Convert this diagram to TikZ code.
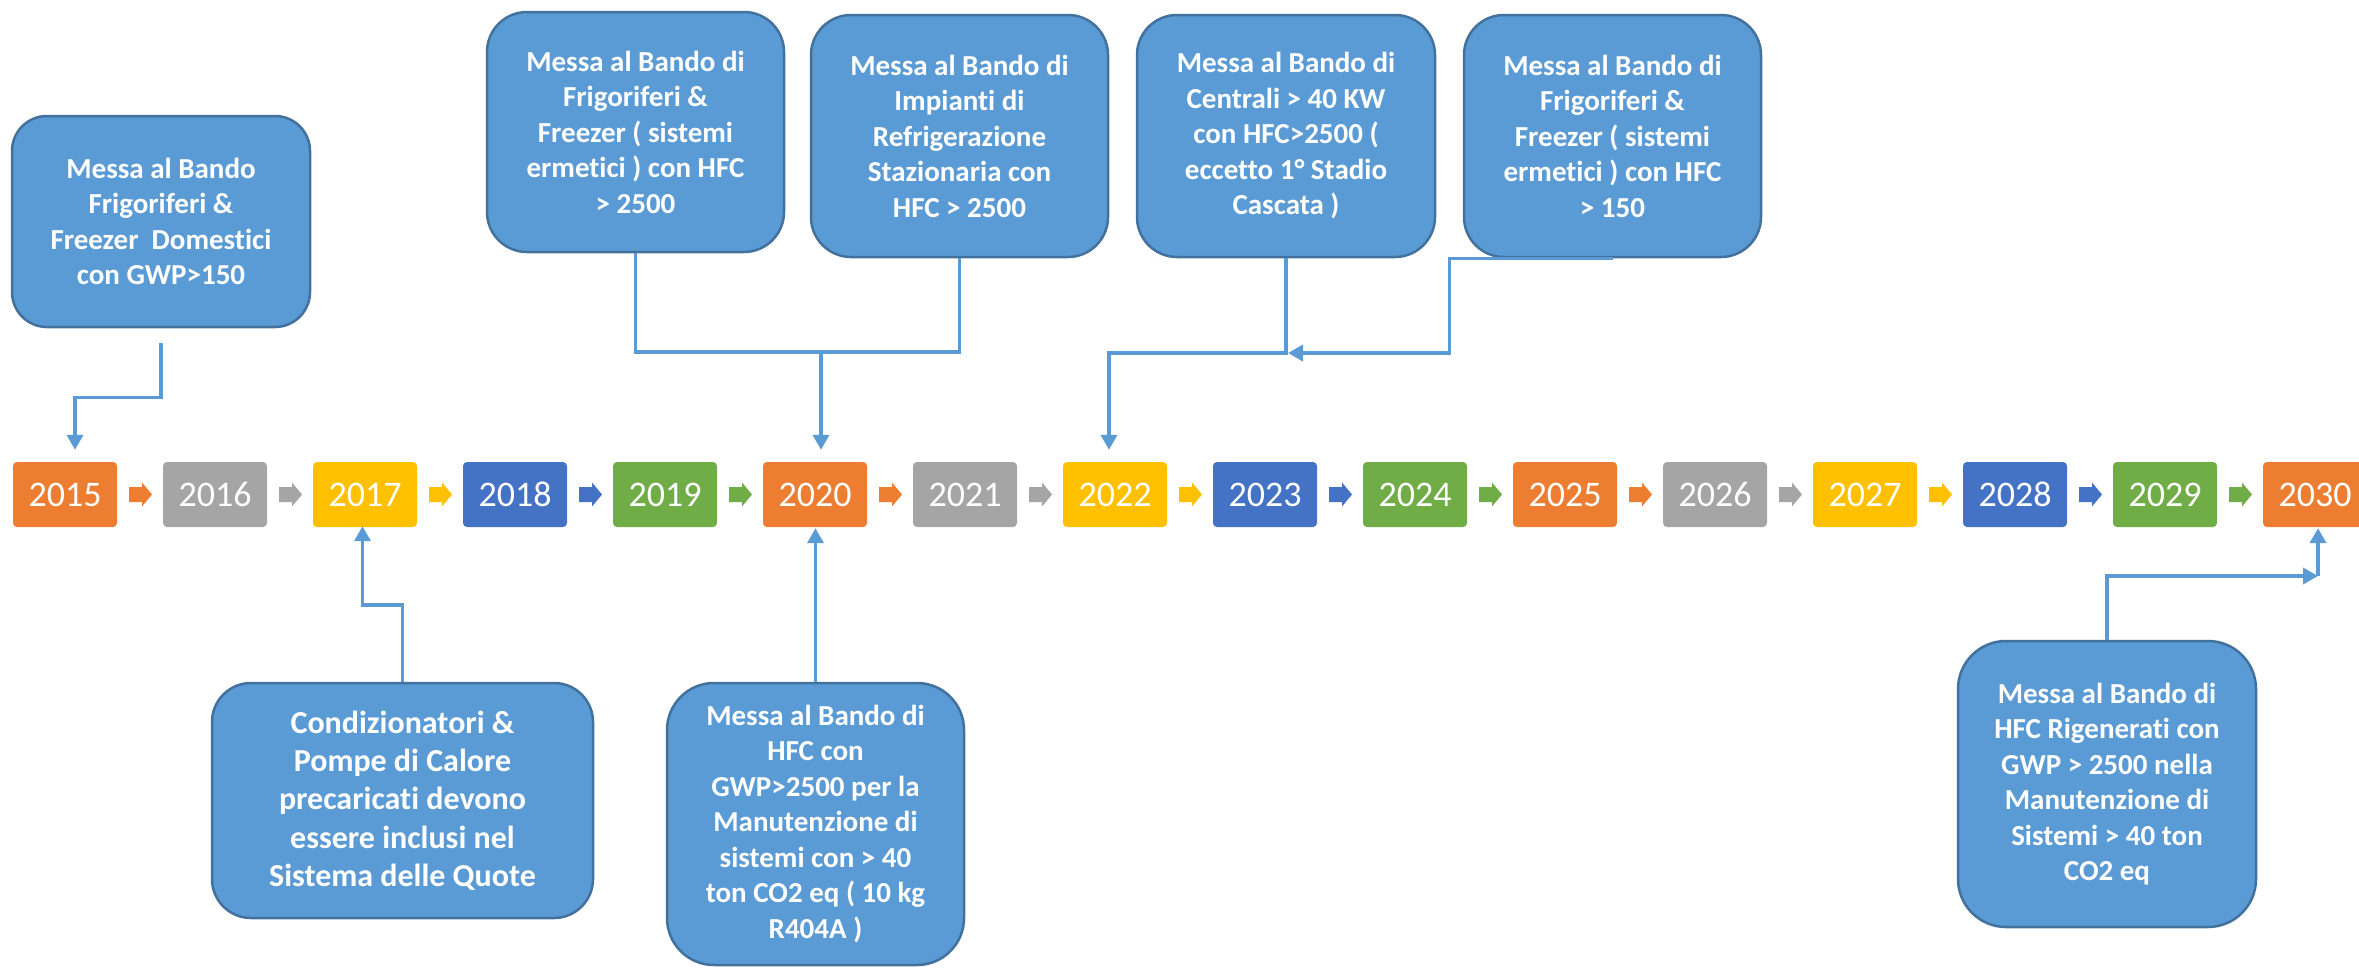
\documentclass[tikz,border=0pt]{standalone}
\usepackage{fontspec}
\setmainfont{Carlito}[RawFeature={-liga;-clig;-calt;-dlig}]
\usetikzlibrary{arrows.meta,calc}
\definecolor{cOr}{HTML}{ED7D31}
\definecolor{cGr}{HTML}{A5A5A5}
\definecolor{cYe}{HTML}{FFC000}
\definecolor{cBl}{HTML}{4472C4}
\definecolor{cGn}{HTML}{70AD47}
\definecolor{cFill}{HTML}{5B9BD5}
\definecolor{cEdge}{HTML}{41719C}
\definecolor{cLine}{HTML}{5B9BD5}
\begin{document}
\begin{tikzpicture}[x=1pt,y=-1pt,
  yearbox/.style={minimum width=104pt, minimum height=65pt, rounded corners=4pt, inner sep=0pt, text=white, font=\fontsize{36}{40}\selectfont},
  callout/.style={fill=cFill, draw=cEdge, line width=2.5pt, text=white, align=center, inner sep=0pt, font=\bfseries\fontsize{29}{35.5}\selectfont},
  conn/.style={draw=cLine, line width=3.5pt, -{Triangle[width=16pt,length=15pt]}},
  link/.style={draw=cLine, line width=3.5pt},
  barrow/.pic={\fill (-11.5,-7.5) -- (1.5,-7.5) -- (1.5,-12) -- (11.5,0) -- (1.5,12) -- (1.5,7.5) -- (-11.5,7.5) -- cycle;}
]
\useasboundingbox (0,0) rectangle (2359,969);

% year boxes
\foreach \i/\yr/\c in {0/2015/cOr,1/2016/cGr,2/2017/cYe,3/2018/cBl,4/2019/cGn,5/2020/cOr,6/2021/cGr,7/2022/cYe,8/2023/cBl,9/2024/cGn,10/2025/cOr,11/2026/cGr,12/2027/cYe,13/2028/cBl,14/2029/cGn,15/2030/cOr}{
  \node[yearbox, fill=\c] (y\i) at ({65+150*\i},494.5) {\yr};
}
% block arrows between years
\foreach \i/\c in {0/cOr,1/cGr,2/cYe,3/cBl,4/cGn,5/cOr,6/cGr,7/cYe,8/cBl,9/cGn,10/cOr,11/cGr,12/cYe,13/cBl,14/cGn}{
  \pic[color=\c] at ({140.5+150*\i},494.5) {barrow};
}

% callouts
\node[callout, rounded corners=35pt, minimum width=298pt, minimum height=211pt] (A) at (161,221.5)
  {Messa al Bando\\Frigoriferi \&\\Freezer~ Domestici\\con GWP>150};
\node[callout, rounded corners=40pt, minimum width=297pt, minimum height=240pt] (B) at (635.5,132)
  {Messa al Bando di\\Frigoriferi \&\\Freezer ( sistemi\\ermetici ) con HFC\\> 2500};
\node[callout, rounded corners=40pt, minimum width=297pt, minimum height=242pt] (C) at (959.5,136)
  {Messa al Bando di\\Impianti di\\Refrigerazione\\Stazionaria con\\HFC > 2500};
\node[callout, rounded corners=40pt, minimum width=298pt, minimum height=242pt] (D) at (1286,136)
  {Messa al Bando di\\Centrali > 40 KW\\con HFC>2500 (\\eccetto 1° Stadio\\Cascata )};
\node[callout, rounded corners=40pt, minimum width=297pt, minimum height=242pt] (E) at (1612.5,136)
  {Messa al Bando di\\Frigoriferi \&\\Freezer ( sistemi\\ermetici ) con HFC\\> 150};
\node[callout, rounded corners=39pt, minimum width=381pt, minimum height=235pt, font=\bfseries\fontsize{32}{38.3}\selectfont] (F) at (402.5,800.5)
  {Condizionatori \&\\Pompe di Calore\\precaricati devono\\essere inclusi nel\\Sistema delle Quote};
\node[callout, rounded corners=47pt, minimum width=297pt, minimum height=282pt] (G) at (815.5,824)
  {Messa al Bando di\\HFC con\\GWP>2500 per la\\Manutenzione di\\sistemi con > 40\\ton CO2 eq ( 10 kg\\R404A )};
\node[callout, rounded corners=48pt, minimum width=298pt, minimum height=286pt] (H) at (2107,784)
  {Messa al Bando di\\HFC Rigenerati con\\GWP > 2500 nella\\Manutenzione di\\Sistemi > 40 ton\\CO2 eq};

% junction coordinates
\coordinate (j20) at (821,352);
\coordinate (k22) at (1109,353);
\coordinate (h30) at (2318,576);

% connectors
\draw[conn] ($(A.south)+(0,15)$) -- ++(0,54) -| ($(y0.north)+(10,-12)$);
\draw[link] (B.south) |- (j20);
\draw[link] (C.south) |- (j20);
\draw[conn] (j20) -- ($(y5.north)+(6,-12)$);
\draw[conn] (D.south) |- (k22) -- ($(y7.north)+(-6,-12)$);
\draw[conn] (E.south) -- ++(-163,0) |- ($(D.south |- k22)+(2,0)$);
\draw[conn] (F.north) -- ++(0,-77) -| ($(y2.south)+(-2.5,-1)$);
\draw[conn] (G.north) -- ($(G.north |- y5.south)+(0,1)$);
\draw[conn] (H.north) |- (h30);
\draw[conn] (h30) -- ($(h30 |- y15.south)+(0,1)$);
\end{tikzpicture}
\end{document}
